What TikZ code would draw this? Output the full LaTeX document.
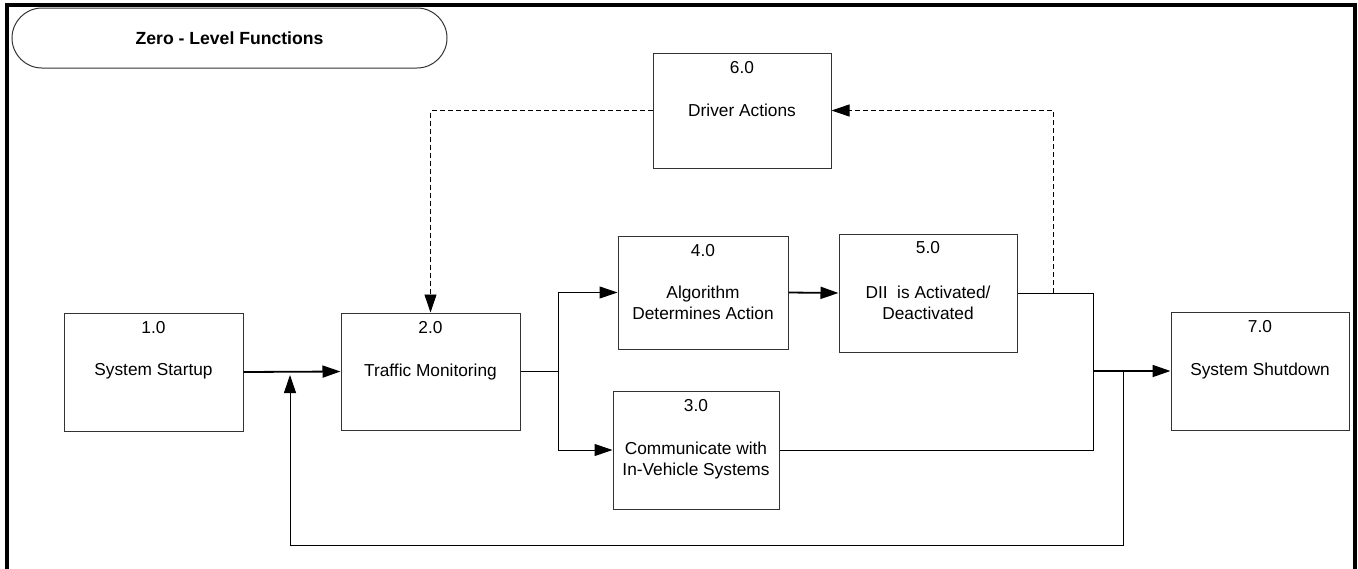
\documentclass[tikz,border=0pt]{standalone}
\usepackage{fontspec}
\setmainfont{Liberation Sans}
\usetikzlibrary{arrows.meta}
\begin{document}
\begin{tikzpicture}[x=1pt,y=-1pt,
  fbox/.style={draw=black!80, line width=1pt, fill=white, rectangle, inner sep=0pt},
  numtext/.style={anchor=north, inner sep=0pt, font=\fontsize{17.3}{21.5}\selectfont},
  lbl/.style={anchor=north, inner sep=0pt, align=center, font=\fontsize{17.3}{21.5}\selectfont},
  flow/.style={draw=black, line width=1pt, -{Triangle[length=18pt,width=12pt]}},
  flowthick/.style={flow, line width=1.8pt},
  plain/.style={draw=black, line width=1pt},
  dashedflow/.style={draw=black, line width=0.9pt, dash pattern=on 5pt off 3pt, -{Triangle[length=18pt,width=12pt]}},
  dashedline/.style={draw=black, line width=0.9pt, dash pattern=on 5pt off 3pt}
]
\useasboundingbox (0,0) rectangle (1358,568);

% outer frame
\draw[line width=4pt] (7,570) -- (7,5) -- (1355,5) -- (1355,570);

% title capsule
\node[draw=black!80, line width=1pt, rounded corners=30pt, minimum width=435pt, minimum height=60pt,
      font=\bfseries\fontsize{17.6}{21}\selectfont] (title) at (229.5,38) {Zero - Level Functions};

% process boxes
\node[fbox, minimum width=179pt, minimum height=118pt] (b1) at (153.5,372) {};
\node[fbox, minimum width=179pt, minimum height=117pt] (b2) at (430.5,371.5) {};
\node[fbox, minimum width=166pt, minimum height=118pt] (b3) at (696,450) {};
\node[fbox, minimum width=170pt, minimum height=113pt] (b4) at (703,292.5) {};
\node[fbox, minimum width=178pt, minimum height=118pt] (b5) at (928,293) {};
\node[fbox, minimum width=178pt, minimum height=115pt] (b6) at (742,110.5) {};
\node[fbox, minimum width=178pt, minimum height=118pt] (b7) at (1260,371) {};

% box texts
\node[numtext] (n1) at ([yshift=-9pt]b1.north) {1.0};
\node[lbl] (t1) at ([yshift=-51pt]b1.north) {System Startup};
\node[numtext] (n2) at ([yshift=-9pt]b2.north) {2.0};
\node[lbl] (t2) at ([yshift=-51pt]b2.north) {Traffic Monitoring};
\node[numtext] (n3) at ([yshift=-9pt]b3.north) {3.0};
\node[lbl] (t3) at ([yshift=-51pt]b3.north) {Communicate with\\In-Vehicle Systems};
\node[numtext] (n4) at ([yshift=-9pt]b4.north) {4.0};
\node[lbl] (t4) at ([yshift=-50pt]b4.north) {Algorithm\\Determines Action};
\node[numtext] (n5) at ([yshift=-8pt]b5.north) {5.0};
\node[lbl] (t5) at ([yshift=-52pt]b5.north) {DII\ \ is Activated/\\Deactivated};
\node[numtext] (n6) at ([yshift=-9pt]b6.north) {6.0};
\node[lbl] (t6) at ([yshift=-51pt]b6.north) {Driver Actions};
\node[numtext] (n7) at ([yshift=-9pt]b7.north) {7.0};
\node[lbl] (t7) at ([yshift=-51pt]b7.north) {System Shutdown};

% junction points
\coordinate (split) at (558,371.5);
\coordinate (merge) at (1093,371);
\coordinate (back) at (1123,371);
\coordinate (backtip) at (290,375);
\coordinate (drv) at (1053,293);

% main flow
\draw[flowthick] (b1.east) -- (b2.west);
\draw[plain] (b2.east) -- (split);
\draw[flow] (split) |- (b4.west);
\draw[flow] (split) |- (b3.west);
\draw[flowthick] (b4.east) -- (b5.west);
\draw[plain] (b5.east) -| (merge);
\draw[plain] (b3.east) -| (merge);
\draw[flowthick] (merge) -- (b7.west);

% loop back to monitoring
\draw[flow] (back) -- (1123,545) -- (290,545) -- (backtip);

% driver interaction (dashed)
\draw[dashedflow] (drv) |- (b6.east);
\draw[dashedflow] (b6.west) -| (b2.north);
\end{tikzpicture}
\end{document}
